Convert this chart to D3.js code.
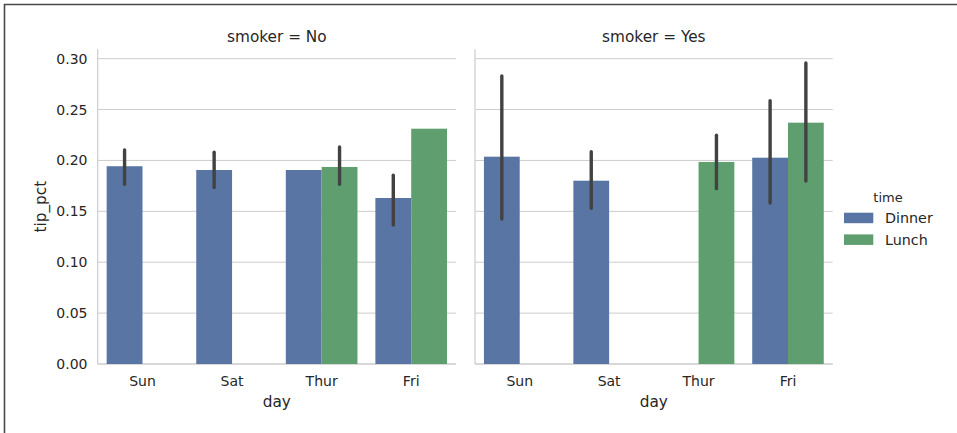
<!DOCTYPE html>
<html><head><meta charset="utf-8">
<script src="https://cdn.jsdelivr.net/npm/d3@7"></script>
<style>
body{margin:0;background:#fff;}
svg{display:block;font-family:"DejaVu Sans",sans-serif;}
</style></head>
<body><svg id="chart" width="957" height="433"></svg>
<script>
const days = ["Sun", "Sat", "Thur", "Fri"];
const times = ["Dinner", "Lunch"];
const smokers = ["No", "Yes"];
const yTicks = [0.00, 0.05, 0.10, 0.15, 0.20, 0.25, 0.30];

// smoker = No
const noDinner   = [0.1943, 0.1906, 0.1906, 0.1631];
const noDinnerLo = [0.1766, 0.1733, null, 0.1366];
const noDinnerHi = [0.2103, 0.2080, null, 0.1854];
const noLunch    = [null, null, 0.1936, 0.2312];
const noLunchLo  = [null, null, 0.1766, null];
const noLunchHi  = [null, null, 0.2132, null];
// smoker = Yes
const yesDinner   = [0.2037, 0.1801, null, 0.2027];
const yesDinnerLo = [0.1425, 0.1530, null, 0.1582];
const yesDinnerHi = [0.2830, 0.2086, null, 0.2587];
const yesLunch    = [null, null, 0.1985, 0.2371];
const yesLunchLo  = [null, null, 0.1723, 0.1798];
const yesLunchHi  = [null, null, 0.2247, 0.2958];

const colors = ["#5975a4", "#5f9e6e"];

const panels = [
  {smoker: "No", x0: 97.7, x1: 456, series: [
    {vals: noDinner, lo: noDinnerLo, hi: noDinnerHi},
    {vals: noLunch, lo: noLunchLo, hi: noLunchHi}]},
  {smoker: "Yes", x0: 475, x1: 832.7, series: [
    {vals: yesDinner, lo: yesDinnerLo, hi: yesDinnerHi},
    {vals: yesLunch, lo: yesLunchLo, hi: yesLunchHi}]}
];

const svg = d3.select("#chart");
const yTop = 49.3, yBot = 364;
const y = d3.scaleLinear().domain([0, 0.3092]).range([yBot, yTop]);
const txt = "#262626";

// outer frame
svg.append("line").attr("x1", 4).attr("x2", 957).attr("y1", 4.5).attr("y2", 4.5)
  .attr("stroke", "#4a4a4a").attr("stroke-width", 1.6);
svg.append("line").attr("x1", 4.5).attr("x2", 4.5).attr("y1", 4).attr("y2", 433)
  .attr("stroke", "#4a4a4a").attr("stroke-width", 1.6);

panels.forEach((p, pi) => {
  const g = svg.append("g");
  const x = d3.scaleBand().domain(days).range([p.x0, p.x1]).paddingInner(0).paddingOuter(0);
  const inner = d3.scaleBand().domain(times).range([0, x.bandwidth() * 0.8]);
  const off = x.bandwidth() * 0.1;

  // grid
  g.selectAll(".grid").data(yTicks).join("line")
    .attr("x1", p.x0).attr("x2", p.x1)
    .attr("y1", d => y(d)).attr("y2", d => y(d))
    .attr("stroke", "#cccccc").attr("stroke-width", 1);
  // spines
  g.append("line").attr("x1", p.x0).attr("x2", p.x0).attr("y1", yTop).attr("y2", yBot)
    .attr("stroke", "#cccccc").attr("stroke-width", 1.2);
  g.append("line").attr("x1", p.x0).attr("x2", p.x1).attr("y1", yBot).attr("y2", yBot)
    .attr("stroke", "#cccccc").attr("stroke-width", 1.2);

  // bars
  p.series.forEach((s, si) => {
    days.forEach((d, di) => {
      const v = s.vals[di];
      if (v == null) return;
      const bx = x(d) + off + inner(times[si]);
      g.append("rect").attr("x", bx).attr("width", inner.bandwidth())
        .attr("y", y(v)).attr("height", y(0) - y(v))
        .attr("fill", colors[si]);
    });
  });
  // error bars
  p.series.forEach((s, si) => {
    days.forEach((d, di) => {
      if (s.lo[di] == null) return;
      const cx = x(d) + off + inner(times[si]) + inner.bandwidth() / 2;
      g.append("line").attr("x1", cx).attr("x2", cx)
        .attr("y1", y(s.lo[di])).attr("y2", y(s.hi[di]))
        .attr("stroke", "#424242").attr("stroke-width", 3.4)
        .attr("stroke-linecap", "round");
    });
  });

  // x tick labels
  g.selectAll(".xt").data(days).join("text")
    .attr("x", d => x(d) + x.bandwidth() / 2).attr("y", 386)
    .attr("text-anchor", "middle").attr("font-size", 14).attr("fill", txt)
    .text(d => d);
  g.append("text").attr("x", (p.x0 + p.x1) / 2).attr("y", 406.5)
    .attr("text-anchor", "middle").attr("font-size", 15.3).attr("fill", txt).text("day");
  // title
  g.append("text").attr("x", (p.x0 + p.x1) / 2).attr("y", 41.5)
    .attr("text-anchor", "middle").attr("font-size", 15.3).attr("fill", txt)
    .text("smoker = " + p.smoker);

  if (pi === 0) {
    g.selectAll(".yt").data(yTicks).join("text")
      .attr("x", 87.5).attr("y", d => y(d)).attr("dy", "0.36em")
      .attr("text-anchor", "end").attr("font-size", 14).attr("fill", txt)
      .text(d => d3.format(".2f")(d));
    g.append("text").attr("transform", `translate(46,${(yTop + yBot) / 2}) rotate(-90)`)
      .attr("text-anchor", "middle").attr("font-size", 15.3).attr("fill", txt).text("tip_pct");
  }
});

// legend
const lg = svg.append("g");
lg.append("text").attr("x", 888).attr("y", 201.5).attr("text-anchor", "middle")
  .attr("font-size", 13).attr("fill", txt).text("time");
times.forEach((t, i) => {
  lg.append("rect").attr("x", 844).attr("y", 212.7 + i * 21.7).attr("width", 29.3).attr("height", 10.5)
    .attr("fill", colors[i]);
  lg.append("text").attr("x", 885).attr("y", 223.3 + i * 21.7)
    .attr("font-size", 14.3).attr("fill", txt).text(t);
});
</script>
</body></html>
